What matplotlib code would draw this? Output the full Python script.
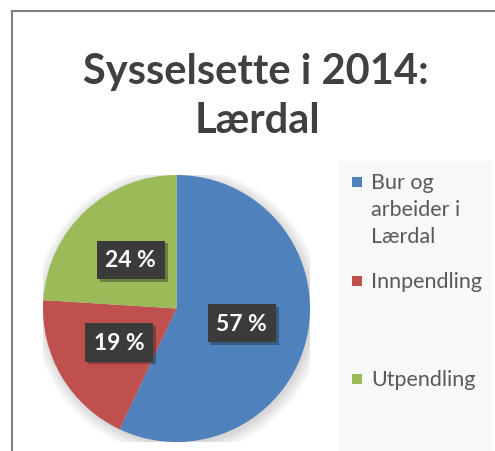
import numpy as np
import matplotlib
matplotlib.use("Agg")
import matplotlib.pyplot as plt
import matplotlib.patches as patches
import matplotlib.patheffects as pe
from matplotlib.lines import Line2D

plt.rcParams['font.family'] = ['Lato', 'DejaVu Sans']

# --- data ---
categories = ['Bur og\narbeider i\nLærdal', 'Innpendling', 'Utpendling']
shares = [57, 19, 24]
colors = ['#4F81BD', '#C0504D', '#9BBB59']
title_lines = ['Sysselsette i 2014:', 'Lærdal']

W, H = 495, 452
fig = plt.figure(figsize=(W / 100, H / 100), dpi=100)


def fx(px):
    return px / W


def fy(py):
    return 1 - py / H


# ramme (border)
fig.add_artist(Line2D([fx(12), fx(12)], [fy(12), 0], color='#7f7f7f', lw=1.5))
fig.add_artist(Line2D([fx(12), 1], [fy(12), fy(12)], color='#7f7f7f', lw=1.5))

# tittel
fig.text(fx(256), fy(84), title_lines[0], ha='center', va='baseline',
         fontsize=30, fontweight='bold', color='#404040')
fig.text(fx(257), fy(133), title_lines[1], ha='center', va='baseline',
         fontsize=30, fontweight='bold', color='#404040')

# legend-boks
fig.add_artist(patches.Rectangle((fx(339), 0), fx(492) - fx(339), fy(162),
                                 transform=fig.transFigure,
                                 facecolor='#F8F8F8', edgecolor='none'))

# --- kake ---
cx, cy, r = 176.5, 309.5, 133.5
ax = fig.add_axes([fx(cx - r), fy(cy + r), 2 * r / W, 2 * r / H])

# mjuk skugge
for k in range(8):
    sh = patches.Circle((0.015, -0.02), 1.0 + 0.012 * k, facecolor='#000000',
                        alpha=0.018, edgecolor='none', zorder=0)
    ax.add_patch(sh)

wedges, _ = ax.pie(shares, colors=colors, startangle=90, counterclock=False,
                   radius=1.0, wedgeprops=dict(linewidth=0))
ax.set_xlim(-1, 1)
ax.set_ylim(-1, 1)
ax.axis('off')

for w, s in zip(wedges, shares):
    ang = np.deg2rad((w.theta1 + w.theta2) / 2)
    t = ax.text(0.5 * np.cos(ang), 0.5 * np.sin(ang), f'{s} %',
                ha='center', va='center', fontsize=16.5, fontweight='bold',
                color='white', zorder=5,
                bbox=dict(boxstyle='square,pad=0.38', facecolor='#3b3b3b',
                          edgecolor='none'))
    t.get_bbox_patch().set_path_effects(
        [pe.SimplePatchShadow(offset=(2, -2), alpha=0.35), pe.Normal()])

# legend
leg_y = [183, 282, 380]
for lab, col, y in zip(categories, colors, leg_y):
    fig.add_artist(patches.Rectangle((fx(352), fy(y + 5)), 10 / W, 10 / H,
                                     transform=fig.transFigure,
                                     facecolor=col, edgecolor='none'))
    fig.text(fx(371), fy(y - 10), lab, ha='left', va='top', fontsize=15.5,
             color='#595959', linespacing=1.45)

fig.savefig('out.png', dpi=100)
